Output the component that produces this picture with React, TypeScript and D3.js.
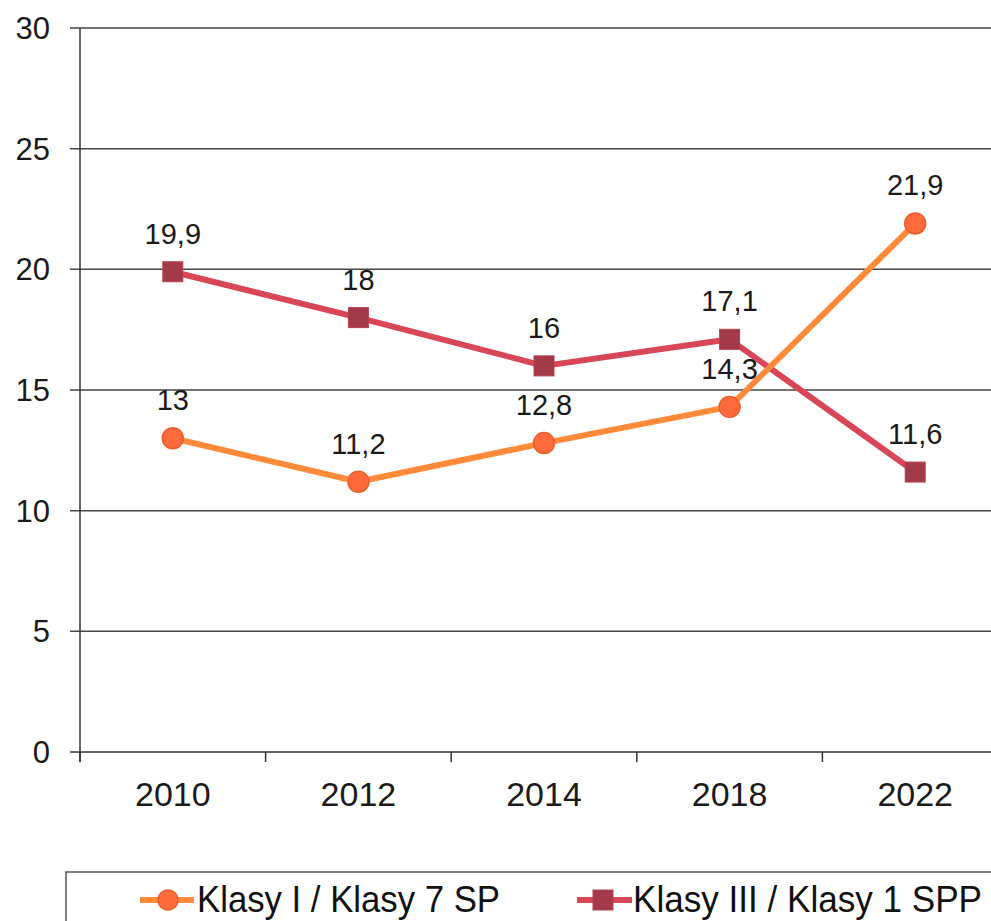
import React from "react";
import * as d3 from "d3";

const years = ["2010", "2012", "2014", "2018", "2022"];
const seriesA = [13, 11.2, 12.8, 14.3, 21.9];
const seriesB = [19.9, 18, 16, 17.1, 11.6];
const labelsA = ["13", "11,2", "12,8", "14,3", "21,9"];
const labelsB = ["19,9", "18", "16", "17,1", "11,6"];
const yTicks = [0, 5, 10, 15, 20, 25, 30];
const legendNames = ["Klasy I / Klasy 7 SP", "Klasy III / Klasy 1 SPP"];

const W = 991;
const H = 921;
const left = 80;
const right = 1008;
const top = 28;
const bottom = 752;

export default function App() {
  const x = d3.scaleBand<string>().domain(years).range([left, right]).padding(0);
  const y = d3.scaleLinear().domain([0, 30]).range([bottom, top]);
  const cx = (d: string) => (x(d) as number) + x.bandwidth() / 2;
  const line = d3
    .line<number>()
    .x((_, i) => cx(years[i]))
    .y((v) => y(v));
  const font = "'Liberation Sans', Arial, sans-serif";
  const orange = "#ff8a3a";
  const orangeFill = "#ff6a3c";
  const red = "#d94658";
  const redFill = "#a33a4a";
  const boundaries = years.map((d) => x(d) as number);

  return (
    <svg
      width={W}
      height={H}
      style={{ position: "absolute", left: 0, top: 0, background: "#fff" }}
      fontFamily={font}
    >
      <rect x={0} y={0} width={W} height={H} fill="#fff" />
      {yTicks.map((t) => (
        <g key={t}>
          <line
            x1={left - 10}
            x2={t === 0 ? right : W}
            y1={y(t)}
            y2={y(t)}
            stroke={t === 0 ? "#333" : "#444"}
            strokeWidth={1.5}
          />
          <text
            x={50}
            y={y(t)}
            dy="0.36em"
            textAnchor="end"
            fontSize={31}
            fill="#1a1a1a"
          >
            {t}
          </text>
        </g>
      ))}
      <line x1={left} x2={left} y1={top} y2={bottom + 10} stroke="#333" strokeWidth={1.5} />
      {boundaries.map((b, i) => (
        <line key={i} x1={b} x2={b} y1={bottom} y2={bottom + 10} stroke="#333" strokeWidth={1.5} />
      ))}
      {years.map((d) => (
        <text key={d} x={cx(d)} y={806} textAnchor="middle" fontSize={34} fill="#1a1a1a">
          {d}
        </text>
      ))}
      <path d={line(seriesB) || ""} fill="none" stroke={red} strokeWidth={6} strokeLinejoin="round" />
      <path d={line(seriesA) || ""} fill="none" stroke={orange} strokeWidth={6} strokeLinejoin="round" />
      {seriesB.map((v, i) => (
        <rect
          key={"b" + i}
          x={cx(years[i]) - 10}
          y={y(v) - 10}
          width={20}
          height={20}
          fill={redFill}
          stroke="#b8404f"
          strokeWidth={1}
        />
      ))}
      {seriesA.map((v, i) => (
        <circle
          key={"a" + i}
          cx={cx(years[i])}
          cy={y(v)}
          r={10.5}
          fill={orangeFill}
          stroke="#e8602e"
          strokeWidth={1.5}
        />
      ))}
      {seriesA.map((v, i) => (
        <text key={"la" + i} x={cx(years[i])} y={y(v) - 28} textAnchor="middle" fontSize={29} fill="#1a1a1a">
          {labelsA[i]}
        </text>
      ))}
      {seriesB.map((v, i) => (
        <text key={"lb" + i} x={cx(years[i])} y={y(v) - 28} textAnchor="middle" fontSize={29} fill="#1a1a1a">
          {labelsB[i]}
        </text>
      ))}
      <rect x={66} y={872} width={1000} height={100} fill="#fff" stroke="#555" strokeWidth={1.5} />
      <line x1={140} x2={194} y1={900} y2={900} stroke={orange} strokeWidth={6} />
      <circle cx={168} cy={900} r={10} fill={orangeFill} stroke="#e8602e" strokeWidth={1.5} />
      <text x={197} y={912} fontSize={36} fill="#111" textLength={303} lengthAdjust="spacingAndGlyphs">
        {legendNames[0]}
      </text>
      <line x1={577} x2={632} y1={900} y2={900} stroke={red} strokeWidth={6} />
      <rect x={593} y={890} width={20} height={20} fill={redFill} stroke="#b8404f" strokeWidth={1} />
      <text x={633} y={912} fontSize={36} fill="#111" textLength={349} lengthAdjust="spacingAndGlyphs">
        {legendNames[1]}
      </text>
    </svg>
  );
}
